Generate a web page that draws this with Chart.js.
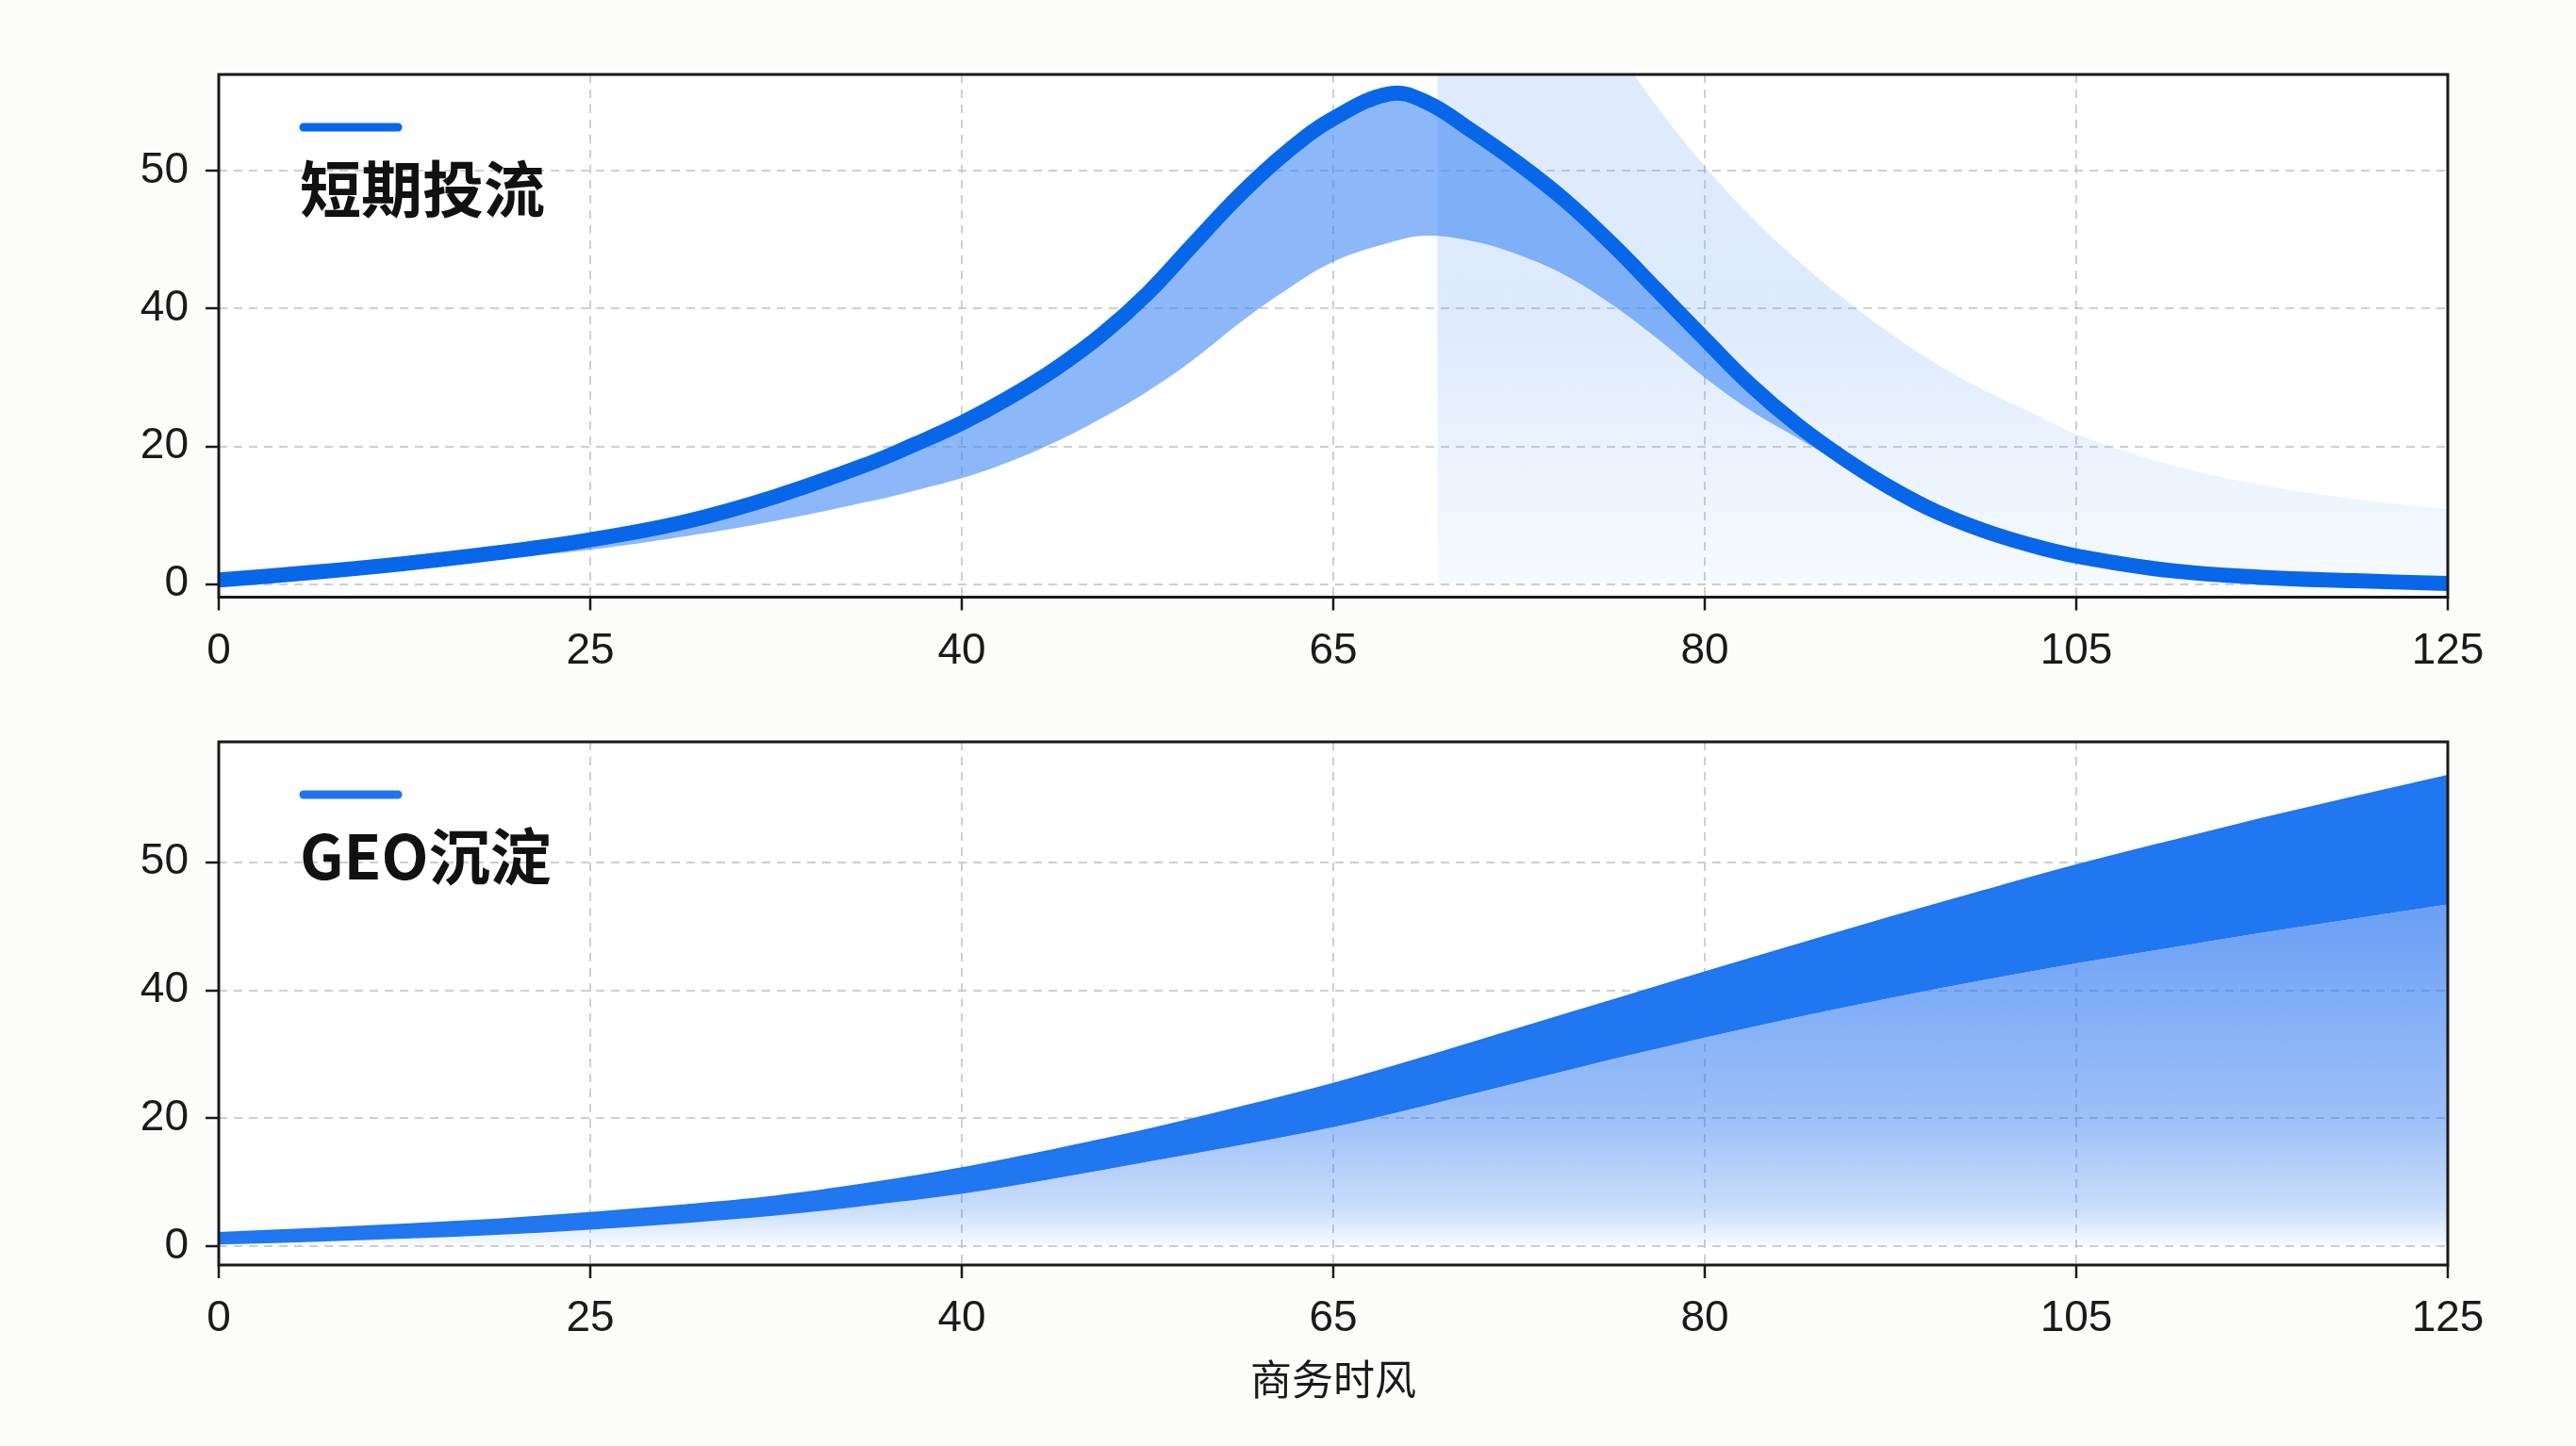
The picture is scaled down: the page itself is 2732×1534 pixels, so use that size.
<!DOCTYPE html>
<html><head><meta charset="utf-8">
<script src="https://cdn.jsdelivr.net/npm/chart.js@4.4.1/dist/chart.umd.min.js"></script>
<style>
html,body{margin:0;padding:0;background:#fcfcfa;}
#wrap{position:relative;width:2732px;height:1534px;overflow:hidden;}
canvas{position:absolute;left:0;}
</style></head><body>
<div id="wrap">
<canvas id="c1" width="2732" height="760" style="top:0px"></canvas>
<canvas id="c2" width="2732" height="774" style="top:760px"></canvas>
</div>
<script>
// ---- data ----
const xTicks = [0, 25, 40, 65, 80, 105, 125];
const yTicks = [0, 20, 40, 50];
const xAxisTitle = '商务时风';
const seriesNames = ['短期投流', 'GEO沉淀'];

// 短期投流 : sample x, main line and lower edge of its band
const flowX     = [0, 6.25, 12.5, 18.75, 25, 28.75, 32.5, 36.25, 38.1, 40, 43.1, 46.25, 49.4, 52.5, 55.6, 58.75, 61.9, 65,
                   67.3, 68.75, 70.6, 72.5, 74.4, 76.25, 78.1, 80, 83.1, 86.25, 89.4, 92.5, 95.6, 98.75,
                   101.9, 105, 110, 115, 120, 125];
const flowLine  = [0.6, 1.7, 3.0, 4.56, 6.46, 9.0, 12.76, 17.5, 20.3, 23.4, 27.0, 31.2, 36.2, 41.1, 44.7, 48.3, 51.4, 53.8,
                   55.6, 55.0, 52.9, 50.5, 47.8, 44.7, 41.3, 35.6, 28.9, 23.1, 18.2, 14.0, 10.5, 7.8,
                   5.7, 4.1, 2.0, 1.0, 0.5, 0.1];
const flowLower = [0.4, 1.3, 2.5, 3.7, 5.0, 6.9, 9.2, 12.0, 13.6, 15.4, 17.7, 20.6, 24.1, 28.0, 32.6, 38.0, 41.4, 43.4,
                   44.8, 45.3, 44.9, 43.9, 42.4, 40.3, 35.6, 30.0, 25.2, 21.2, 17.2, 13.4, 10.0, 7.2,
                   5.1, 3.6, 1.6, 0.8, 0.3, 0.0];
// 短期投流 : pale spill area
const spillX = [69.2, 70.6, 72.5, 74.4, 76.25, 78.1, 80, 83.1, 86.25, 89.4, 92.5, 95.6, 98.75, 101.9,
                105, 110, 115, 120, 125];
const spillY = [85, 78, 72, 66, 59.5, 54.6, 50.35, 46.7, 43.5, 40.7, 36.4, 32.0, 28.2, 25.0,
                21.8, 17.4, 14.4, 12.4, 10.9];

// GEO沉淀 : upper and lower edges of the band
const geoX     = [0, 6.25, 12.5, 18.75, 25, 28.75, 32.5, 36.25, 40, 46.25, 52.5, 58.75, 65,
                  68.75, 72.5, 76.25, 80, 86.25, 92.5, 98.75, 105, 110, 115, 120, 125];
const geoUpper = [2.1, 2.7, 3.4, 4.2, 5.2, 6.4, 7.8, 9.8, 12.2, 15.1, 18.2, 21.7, 25.4,
                  29.6, 34.0, 38.4, 41.4, 43.55, 45.7, 47.75, 49.75, 51.6, 53.4, 55.1, 56.75];
const geoLower = [0.3, 0.7, 1.2, 1.8, 2.6, 3.6, 4.8, 6.4, 8.2, 10.6, 13.2, 15.8, 18.6,
                  22.0, 25.6, 29.2, 32.6, 35.8, 38.8, 40.8, 42.1, 43.3, 44.5, 45.6, 46.7];

// ---- helpers: axis ticks are evenly spaced, so map values onto tick positions ----
function toPos(v, ticks) {
  const n = ticks.length;
  let i;
  if (v <= ticks[0]) i = 0;
  else if (v >= ticks[n - 1]) i = n - 2;
  else { i = 0; while (v > ticks[i + 1]) i++; }
  return i + (v - ticks[i]) / (ticks[i + 1] - ticks[i]);
}
function pts(xs, ys) {
  return xs.map((x, i) => ({ x: toPos(x, xTicks), y: toPos(ys[i], yTicks) }));
}
function vGrad(chart, stops) {
  const { ctx, chartArea: a, scales } = chart;
  if (!a) return 'rgba(0,0,0,0)';
  const y = scales.y;
  const g = ctx.createLinearGradient(0, y.getPixelForValue(0), 0, y.getPixelForValue(3.7));
  stops.forEach(s => g.addColorStop(s[0], s[1]));
  return g;
}

const TICK_FONT = { family: '"Liberation Sans Narrow","Liberation Sans","Noto Sans",sans-serif', size: 46 };
const GRID = 'rgba(190,190,200,0.75)';

const framePlugin = {
  id: 'frame',
  beforeDraw(chart) {
    const { ctx, chartArea: a } = chart;
    ctx.save(); ctx.fillStyle = '#ffffff';
    ctx.fillRect(a.left, a.top, a.width, a.height); ctx.restore();
  },
  afterDatasetsDraw(chart, args, opts) {
    const { ctx, chartArea: a } = chart;
    ctx.save();
    ctx.strokeStyle = '#1a1a1a'; ctx.lineWidth = 3;
    ctx.strokeRect(a.left, a.top, a.width, a.height);
    // legend key
    ctx.strokeStyle = opts.color; ctx.lineWidth = 9; ctx.lineCap = 'round';
    ctx.beginPath(); ctx.moveTo(a.left + 90, a.top + 56); ctx.lineTo(a.left + 190, a.top + 56); ctx.stroke();
    ctx.fillStyle = '#111111';
    ctx.font = 'bold 65px "Noto Sans CJK SC", sans-serif';
    ctx.textBaseline = 'middle'; ctx.textAlign = 'left';
    ctx.fillText(opts.label, a.left + 86, a.top + 121);
    ctx.restore();
  }
};

function makeOptions(cfg) {
  return {
    responsive: false, animation: false, devicePixelRatio: 1,
    layout: { padding: { left: 0, right: 136, top: cfg.padTop, bottom: 0 } },
    plugins: { legend: { display: false }, tooltip: { enabled: false },
               frame: { label: cfg.label, color: cfg.keyColor } },
    elements: { point: { radius: 0 }, line: cfg.lineStyle },
    scales: {
      x: {
        type: 'linear', min: 0, max: xTicks.length - 1,
        afterBuildTicks: s => { s.ticks = xTicks.map((_, i) => ({ value: i })); },
        afterFit: s => { s.height = cfg.xHeight; s.paddingLeft = 0; s.paddingRight = 0; },
        ticks: { callback: v => String(xTicks[Math.round(v)]), font: TICK_FONT, color: '#1a1a1a',
                 padding: 16, maxRotation: 0, autoSkip: false },
        grid: { color: GRID, lineWidth: 2, tickLength: 14, tickColor: '#1a1a1a', tickWidth: 2.5 },
        border: { display: false, dash: [9, 7] },
        title: cfg.title ? { display: true, text: cfg.title,
                 font: { family: '"Noto Sans CJK SC",sans-serif', size: 44 }, color: '#1a1a1a',
                 padding: { top: 0, bottom: 44 } } : { display: false }
      },
      y: {
        type: 'linear', min: cfg.yMin, max: cfg.yMax,
        afterBuildTicks: s => { s.ticks = yTicks.map((_, i) => ({ value: i })); },
        afterFit: s => { s.width = 232; s.paddingTop = 0; s.paddingBottom = 0; },
        ticks: { callback: v => String(yTicks[Math.round(v)]), font: TICK_FONT, color: '#1a1a1a', padding: 18 },
        grid: { color: GRID, lineWidth: 2, tickLength: 14, tickColor: '#1a1a1a', tickWidth: 2.5 },
        border: { display: false, dash: [9, 7] }
      }
    }
  };
}

// ---- top panel ----
new Chart(document.getElementById('c1'), {
  type: 'line',
  data: { datasets: [
    { label: 'spill', data: pts(spillX, spillY), borderWidth: 0, order: 3, fill: 'origin',
      backgroundColor: c => vGrad(c.chart, [[0, 'rgba(110,165,240,0.06)'], [0.55, 'rgba(110,165,240,0.23)'], [1, 'rgba(110,165,240,0.22)']]) },
    { label: 'lower', data: pts(flowX, flowLower), borderWidth: 0, order: 2, fill: false },
    { label: seriesNames[0], data: pts(flowX, flowLine), borderColor: '#0866e8', borderWidth: 16,
      order: 1, fill: 1, backgroundColor: 'rgba(60,135,245,0.59)' }
  ] },
  options: makeOptions({ padTop: 79, xHeight: 126.5, yMin: -0.094, yMax: 3.70,
                         label: seriesNames[0], keyColor: '#0866e8',
                         lineStyle: { tension: 0.4, capBezierPoints: true } }),
  plugins: [framePlugin]
});

// ---- bottom panel ----
new Chart(document.getElementById('c2'), {
  type: 'line',
  data: { datasets: [
    { label: seriesNames[1], data: pts(geoX, geoUpper), borderColor: '#1f74ef', borderWidth: 2,
      order: 1, fill: 1, backgroundColor: '#2177f0' },
    { label: 'base', data: pts(geoX, geoLower), borderWidth: 0, order: 2, fill: 'origin',
      backgroundColor: c => vGrad(c.chart, [[0, 'rgba(45,120,240,0.03)'], [0.08, 'rgba(45,120,240,0.25)'],
                                            [0.27, 'rgba(45,120,240,0.47)'], [0.70, 'rgba(45,120,240,0.70)'],
                                            [1, 'rgba(45,120,240,0.78)']]) }
  ] },
  options: makeOptions({ padTop: 27, xHeight: 192, yMin: -0.146, yMax: 3.94,
                         label: seriesNames[1], keyColor: '#1f74ef', title: xAxisTitle,
                         lineStyle: { cubicInterpolationMode: 'monotone' } }),
  plugins: [framePlugin]
});
</script>
</body></html>
